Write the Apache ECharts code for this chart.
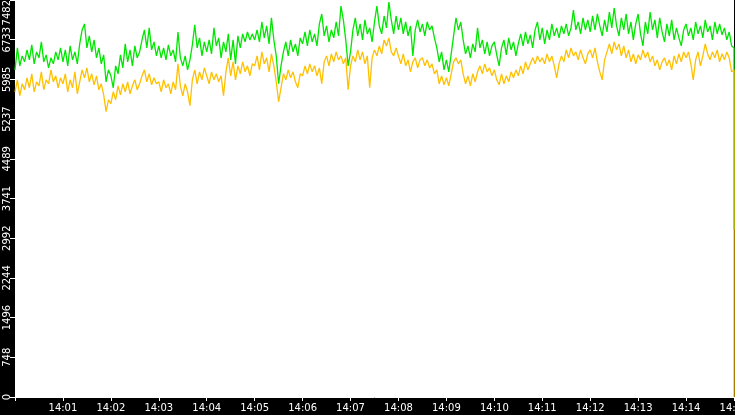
<!DOCTYPE html>
<html><head><meta charset="utf-8">
<script src="https://cdn.jsdelivr.net/npm/echarts@6/dist/echarts.min.js"></script>
<style>html,body{margin:0;padding:0;background:#000}#c{width:735px;height:415px}</style>
</head><body><div id="c"></div>
<script>
const stepSeconds = 3;
const yMax = 7482;
const yStep = 748.2;
// one row per minute, 20 samples each (3 s apart); the last row holds the
// reading at 14:15:00 followed by the drop recorded at that same instant
const green = [
6166,6580,6241,6429,6316,6542,6354,6636,6279,6504,6392,6692,6316,6448,6204,6392,6279,6504,6354,6580,
6316,6542,6241,6617,6354,6504,6279,6655,6918,7031,6580,6805,6504,6730,6392,6580,6279,6448,5940,6166,
6053,5828,6241,6091,6448,6204,6655,6316,6542,6241,6617,6392,6504,6730,6918,6580,6956,6542,6692,6429,
6617,6392,6580,6354,6636,6429,6542,6316,6880,6392,6241,6429,6166,6354,6636,7012,6580,6768,6429,6692,
6504,6730,6467,6956,6617,6768,6392,6692,6504,6843,6354,6730,6279,6805,6580,6843,6692,6880,6730,6843,
6730,6918,6692,7068,6768,6993,6655,7144,6730,6429,5903,6241,6504,6692,6429,6730,6504,6655,6429,6768,
6655,6880,6617,6918,6692,6843,6617,7031,7219,6805,6993,6692,6918,6768,7068,6805,7369,7106,6730,6241,
6504,6918,7144,6805,7031,6730,7106,6843,6956,6692,7068,7369,6993,6843,7181,6956,7444,7106,6843,7181,
6918,7144,6843,7068,6805,6993,6429,6918,7106,6880,7031,6805,7068,6918,6993,6768,6580,6316,6504,6166,
6354,6128,6467,6805,7144,6918,7068,6730,6467,6617,6392,6655,6504,6956,6580,6730,6467,6692,6429,6617,
6692,6448,6241,6580,6730,6448,6768,6542,6692,6429,6655,6843,6617,6880,6655,6824,6580,6918,7068,6730,
6956,6655,6918,6730,7031,6805,6956,6768,6993,6843,7031,6805,6956,7294,6918,7068,6843,7144,6918,7106,
6880,7181,6918,7219,6993,6805,7106,6880,7256,6956,7332,6993,6805,7144,6918,7219,6843,7068,6730,7031,
7219,6843,6617,7068,6843,7256,6918,7106,6768,7144,6880,6692,7031,6805,7106,6730,6956,6768,6617,6918,
7031,6805,6956,6730,7068,6843,6993,6768,7106,6880,6993,6730,7068,6843,7031,6824,6956,6730,6880,6617,
6580,3160];
const yellow = [
5752,5978,5677,5903,5790,6016,5828,6091,5752,5940,5865,6128,5790,5978,5903,6166,5940,6053,5828,6016,
5903,6091,5752,5978,5828,6128,5715,5940,6166,6016,6204,5940,6091,5884,6053,5790,5903,5696,5376,5602,
5527,5752,5602,5865,5696,5903,5752,5940,5715,5865,5978,5790,5903,6053,6166,5940,6091,5884,6016,5903,
5940,5752,5978,5828,5903,5715,5940,5790,6279,5865,5677,5903,5752,5489,5978,6166,5903,6128,5978,6204,
6053,5903,6128,5978,6091,5940,6053,5677,6128,6392,6053,6316,5978,6241,6091,6316,6128,6241,6053,6279,
6241,6429,6166,6504,6279,6392,6128,6467,6241,5940,5564,5828,6091,5978,6166,6016,6128,5940,5828,6091,
6053,6241,6091,6279,6128,6241,6053,6204,5903,6316,6429,6241,6467,6316,6504,6354,6429,6279,6392,5790,
6241,6429,6316,6542,6354,6504,6279,6429,5828,6392,6542,6429,6617,6467,6730,6617,6768,6504,6429,6580,
6429,6279,6467,6241,6354,6128,6316,6392,6204,6354,6392,6241,6354,6204,6279,6091,6166,5903,6053,5884,
6016,5865,6091,6316,6392,6279,6354,6091,5903,6053,5865,6091,5940,6128,6241,6091,6279,6128,6204,6053,
6166,5978,5884,6091,5903,6053,5940,6128,6016,6166,6053,6241,6091,6316,6166,6279,6392,6279,6429,6316,
6392,6279,6467,6316,6429,6241,6016,6279,6429,6316,6542,6392,6580,6429,6504,6354,6542,6392,6279,6467,
6542,6392,6580,6316,6128,5978,6354,6504,6655,6467,6692,6542,6655,6429,6617,6392,6542,6316,6467,6279,
6448,6354,6542,6392,6504,6316,6429,6241,6354,6166,6316,6392,6241,6354,6166,6429,6279,6467,6316,6504,
6392,6504,6279,5978,6354,6504,6241,6429,6655,6467,6354,6504,6392,6542,6316,6467,6354,6504,6392,6128,
6166,0];
const t0 = new Date(2024, 0, 1, 14, 0, 0).getTime();
const tEnd = t0 + 15 * 60000;
const toPairs = arr => arr.map((v, i) => [Math.min(t0 + i * stepSeconds * 1000, tEnd), v]);
const pad = n => (n < 10 ? '0' : '') + n;

const chart = echarts.init(document.getElementById('c'), null, {renderer: 'canvas'});
chart.setOption({
  animation: false,
  backgroundColor: '#000',
  grid: {left: 15, right: 1, top: 0, bottom: 18, show: true, backgroundColor: '#fff', borderWidth: 0,
    containLabel: false, outerBoundsMode: 'none'},
  xAxis: {
    type: 'time', min: t0, max: tEnd, interval: 60000, minInterval: 60000, maxInterval: 60000,
    offset: 1,
    axisLine: {show: true, lineStyle: {color: '#fff', width: 1}},
    axisTick: {show: true, length: 4, lineStyle: {color: '#fff'}},
    axisLabel: {color: '#fff', fontSize: 10, fontFamily: 'DejaVu Sans', margin: 5,
      showMinLabel: false, showMaxLabel: true, hideOverlap: false,
      formatter: v => {
        if (v <= t0) return '';
        const d = new Date(v);
        return pad(d.getHours()) + ':' + pad(d.getMinutes());
      }},
    splitLine: {show: false}
  },
  yAxis: {
    type: 'value', min: 0, max: yMax, interval: yStep,
    axisLine: {show: false},
    axisTick: {show: true, length: 5, lineStyle: {color: '#fff'}},
    axisLabel: {color: '#fff', fontSize: 10, fontFamily: 'DejaVu Sans', rotate: 90, margin: 3,
      showMinLabel: true, showMaxLabel: true, alignMaxLabel: 'right',
      formatter: v => String(Math.floor(v + 1e-6))},
    splitLine: {show: false}
  },
  series: [
    {type: 'line', data: toPairs(green), symbol: 'none', showSymbol: false, clip: false,
      lineStyle: {color: '#00e600', width: 1.3}},
    {type: 'line', data: toPairs(yellow), symbol: 'none', showSymbol: false, clip: false,
      lineStyle: {color: '#ffc000', width: 1.3}}
  ]
});
</script></body></html>
